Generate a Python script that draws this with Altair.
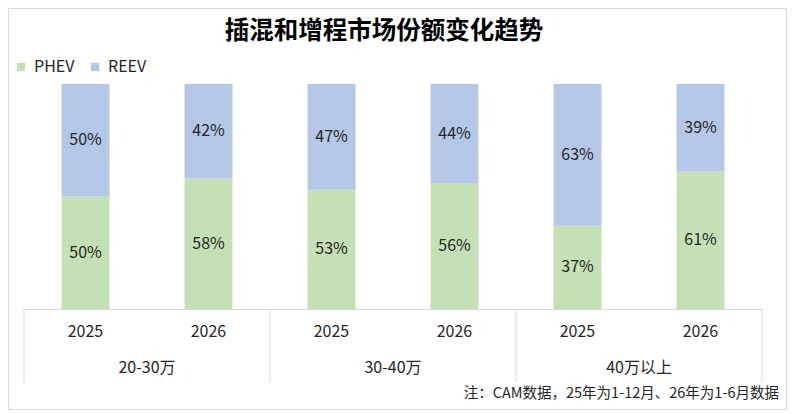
import altair as alt
import pandas as pd

# ---- data ----
groups = ["20-30万", "30-40万", "40万以上"]
years = ["2025", "2026"]
series = ["PHEV", "REEV"]
phev_share = [50, 58, 53, 56, 37, 61]
reev_share = [50, 42, 47, 44, 63, 39]
title_text = "插混和增程市场份额变化趋势"
note_text = "注：CAM数据，25年为1-12月、26年为1-6月数据"

colors = ["#C5E0B4", "#B4C7E7"]
FONT = "Noto Sans CJK SC"
TXT = "#262626"
GRID = "#D9D9D9"

rows = []
for i, g in enumerate(groups):
    for j, yr in enumerate(years):
        k = i * 2 + j
        rows.append(dict(group=g, year=yr, series="PHEV", share=phev_share[k], ord=0))
        rows.append(dict(group=g, year=yr, series="REEV", share=reev_share[k], ord=1))
df = pd.DataFrame(rows)
df_years = pd.DataFrame([dict(group=g, year=yr) for g in groups for yr in years])
df_groups = pd.DataFrame({"group": groups})
df_note = pd.DataFrame({"note": [note_text], "title": [title_text]})

W, H = 738, 225

xaxis = alt.Axis(title=None, labels=False, ticks=False, domain=True,
                 domainColor=GRID, domainWidth=1, grid=False)
xscale = alt.Scale(paddingInner=0, paddingOuter=0)


def X(**kw):
    return alt.X("group:N", sort=groups, scale=xscale, axis=xaxis, **kw)


XO = alt.XOffset("year:N", sort=years,
                 scale=alt.Scale(paddingInner=0.61, paddingOuter=0.305))
yscale = alt.Scale(domain=[0, 100])

bars = alt.Chart(df).mark_bar().encode(
    x=X(),
    xOffset=XO,
    y=alt.Y("share:Q", stack="zero", scale=yscale, axis=None),
    color=alt.Color(
        "series:N",
        scale=alt.Scale(domain=series, range=colors),
        legend=alt.Legend(
            title=None, orient="none", direction="horizontal",
            legendX=-11, legendY=-25, symbolType="square", symbolSize=70,
            symbolStrokeWidth=0, labelFontSize=16, labelFont=FONT,
            labelColor=TXT, labelOffset=5, columnPadding=12, padding=0,
        ),
    ),
    order=alt.Order("ord:Q"),
)

bar_labels = alt.Chart(df).transform_stack(
    stack="share", as_=["y0", "y1"], groupby=["group", "year"],
    sort=[alt.SortField("ord")],
).transform_calculate(
    mid="(datum.y0 + datum.y1) / 2", label="datum.share + '%'"
).mark_text(fontSize=16, font=FONT, color=TXT, baseline="middle").encode(
    x=X(),
    xOffset=XO,
    y=alt.Y("mid:Q", scale=yscale, axis=None),
    text="label:N",
)

year_labels = alt.Chart(df_years).mark_text(
    fontSize=16, font=FONT, color=TXT, baseline="middle"
).encode(x=X(), xOffset=XO, y=alt.value(H + 23), text="year:N")

group_labels = alt.Chart(df_groups).mark_text(
    fontSize=16, font=FONT, color=TXT, baseline="middle"
).encode(x=X(), y=alt.value(H + 59), text="group:N")

seps = alt.Chart(df_groups).mark_rule(color=GRID, strokeWidth=1).encode(
    x=X(bandPosition=0), y=alt.value(H), y2=alt.value(H + 73)
)
sep_end = alt.Chart(df_note).mark_rule(color=GRID, strokeWidth=1).encode(
    x=alt.value(W), y=alt.value(H), y2=alt.value(H + 73)
)

note = alt.Chart(df_note).mark_text(
    fontSize=14.5, font=FONT, color=TXT, align="right", baseline="middle"
).encode(x=alt.value(W + 17), y=alt.value(H + 85), text="note:N")

title = alt.Chart(df_note).mark_text(
    fontSize=24.5, font=FONT, fontWeight="bold", color="#000000",
    align="center", baseline="middle"
).encode(x=alt.value(360), y=alt.value(-52), text="title:N")

border = alt.Chart(df_note).mark_rect(
    fill=None, stroke=GRID, strokeWidth=1
).encode(
    x=alt.value(-15.5), x2=alt.value(W + 24.5),
    y=alt.value(-75.5), y2=alt.value(H + 100.5),
)

chart = alt.layer(
    border, bars, bar_labels, seps, sep_end, year_labels, group_labels,
    note, title
).properties(
    width=W, height=H,
    autosize=alt.AutoSizeParams(type="none"),
    padding={"left": 16, "top": 76, "right": 25, "bottom": 101},
).configure(font=FONT).configure_view(stroke=None)

chart.save("out.html", embed_options={"renderer": "svg", "actions": False})
